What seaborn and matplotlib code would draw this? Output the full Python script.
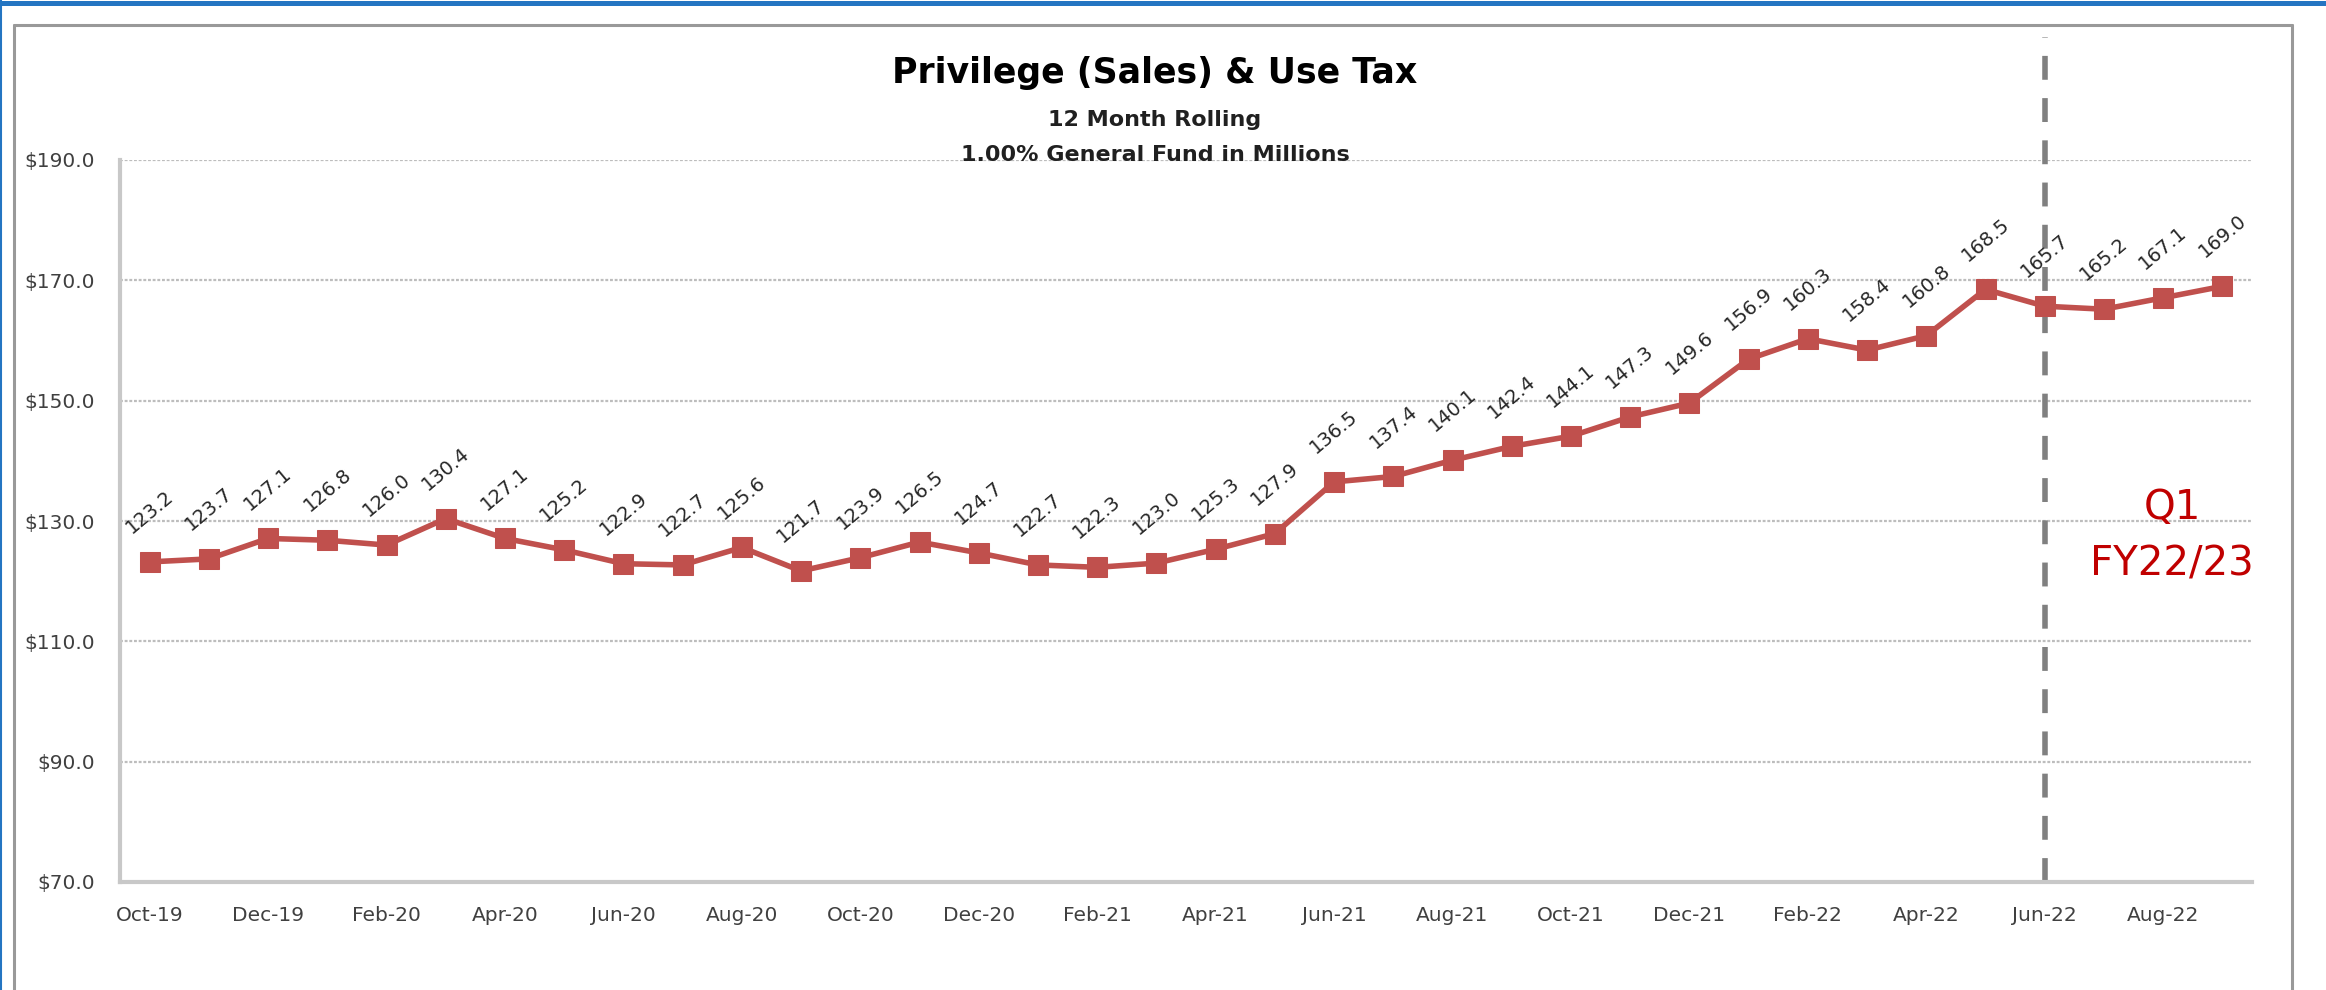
import matplotlib
matplotlib.use('Agg')
import matplotlib.pyplot as plt
import seaborn as sns
import pandas as pd
from matplotlib.lines import Line2D
from matplotlib.ticker import FuncFormatter

# 12 month rolling values, millions
months = ['Oct-19', 'Nov-19', 'Dec-19', 'Jan-20', 'Feb-20', 'Mar-20', 'Apr-20', 'May-20',
          'Jun-20', 'Jul-20', 'Aug-20', 'Sep-20', 'Oct-20', 'Nov-20', 'Dec-20', 'Jan-21',
          'Feb-21', 'Mar-21', 'Apr-21', 'May-21', 'Jun-21', 'Jul-21', 'Aug-21', 'Sep-21',
          'Oct-21', 'Nov-21', 'Dec-21', 'Jan-22', 'Feb-22', 'Mar-22', 'Apr-22', 'May-22',
          'Jun-22', 'Jul-22', 'Aug-22', 'Sep-22']
values = [123.2, 123.7, 127.1, 126.8, 126.0, 130.4, 127.1, 125.2,
          122.9, 122.7, 125.6, 121.7, 123.9, 126.5, 124.7, 122.7,
          122.3, 123.0, 125.3, 127.9, 136.5, 137.4, 140.1, 142.4,
          144.1, 147.3, 149.6, 156.9, 160.3, 158.4, 160.8, 168.5,
          165.7, 165.2, 167.1, 169.0]
y_ticks = [70, 90, 110, 130, 150, 170, 190]
divider_month = 'Jun-22'
note = 'Q1\nFY22/23'

sns.set_style('white')
plt.rcParams['font.family'] = ['DejaVu Sans']

df = pd.DataFrame({'month': months, 'value': values})
df['pos'] = range(len(df))

W, H = 2326, 990
fig = plt.figure(figsize=(W / 100, H / 100), dpi=100)
fig.patch.set_facecolor('white')
ax = fig.add_axes([120 / W, 1 - 882 / H, 2132 / W, 722 / H])

sns.lineplot(data=df, x='pos', y='value', ax=ax, color='#C0504D', lw=4,
             marker='s', markersize=15, markeredgecolor='#C0504D', zorder=3)

for i, v in zip(df['pos'], df['value']):
    ax.annotate('{0:.1f}'.format(v), (i, v), xytext=(0, 36), textcoords='offset points',
                ha='center', va='center', rotation=40, fontsize=14, color='#262626')

ax.set_xlim(-0.5, len(months) - 0.5)
ax.set_ylim(70, 190)
ax.set_yticks(y_ticks)
ax.yaxis.set_major_formatter(FuncFormatter(lambda v, p: '${0:.1f}'.format(v)))
ax.set_xticks(df['pos'][::2])
ax.set_xticklabels(df['month'][::2])
ax.tick_params(axis='both', length=0, labelsize=14.5, labelcolor='#404040')
ax.tick_params(axis='y', pad=18)
ax.tick_params(axis='x', pad=17)
ax.set_xlabel('')
ax.set_ylabel('')

ax.grid(axis='y', color='#BDBDBD', lw=1.6, linestyle=(0, (1.3, 0.8)), zorder=0)
ax.set_axisbelow(True)
for s in ['top', 'right']:
    ax.spines[s].set_visible(False)
for s in ['left', 'bottom']:
    ax.spines[s].set_color('#C8C8C8')
    ax.spines[s].set_linewidth(3)

# fiscal quarter divider
div = months.index(divider_month)
ax.axvline(div, ymin=0, ymax=(882 - 37) / 722, color='#808080', lw=4,
           dashes=(4.3, 3.3), clip_on=False, zorder=2)
ax.text(0.9625, 0.479, note, transform=ax.transAxes, ha='center', va='center',
        fontsize=29, color='#C00000', linespacing=1.55)

# titles
fig.text(1155 / W, 1 - 73 / H, 'Privilege (Sales) & Use Tax', ha='center', va='center',
         fontsize=25, fontweight='bold', color='black')
fig.text(1155 / W, 1 - 120 / H, '12 Month Rolling', ha='center', va='center',
         fontsize=16, fontweight='bold', color='#202020')
fig.text(1155 / W, 1 - 155 / H, '1.00% General Fund in Millions', ha='center', va='center',
         fontsize=16, fontweight='bold', color='#202020')

# chart frame and page border
frame = dict(color='#999999', lw=2.2)
fig.add_artist(Line2D([14 / W, 2292 / W], [1 - 25 / H, 1 - 25 / H], **frame))
fig.add_artist(Line2D([14 / W, 14 / W], [0, 1 - 25 / H], **frame))
fig.add_artist(Line2D([2292 / W, 2292 / W], [0, 1 - 25 / H], **frame))
fig.add_artist(Line2D([0, 1], [1 - 2.5 / H, 1 - 2.5 / H], color='#2475C2', lw=3.6))
fig.add_artist(Line2D([1 / W, 1 / W], [0, 1], color='#2475C2', lw=1.5))

fig.savefig('out.png', dpi=100)
